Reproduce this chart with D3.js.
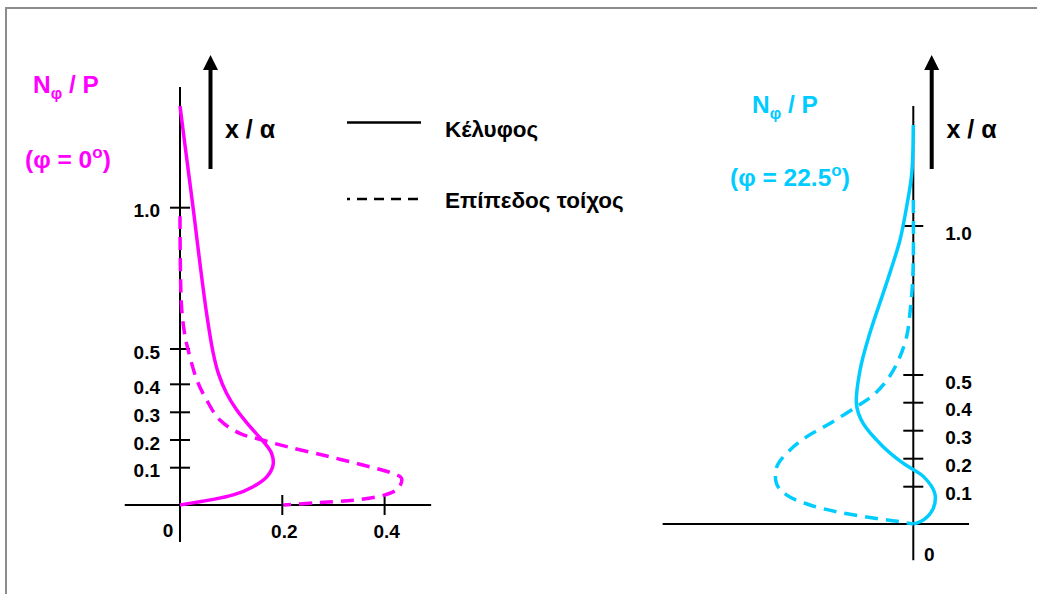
<!DOCTYPE html>
<html>
<head>
<meta charset="utf-8">
<script src="https://cdn.jsdelivr.net/npm/d3@7"></script>
<style>
  html, body { margin: 0; padding: 0; background: #fff; }
  svg { display: block; font-family: "Liberation Sans", Arial, sans-serif; font-weight: bold; }
</style>
</head>
<body>
<svg id="chart" width="1037" height="594"></svg>
<script>
// ---------------- DATA ----------------
const yTickValues = [0.1, 0.2, 0.3, 0.4, 0.5, 1.0];
const yTickLabels = ["0.1", "0.2", "0.3", "0.4", "0.5", "1.0"];
const xTickValuesLeft = [0.2, 0.4];
const xTickLabelsLeft = ["0.2", "0.4"];
const legendLabels = ["Κέλυφος", "Επίπεδος τοίχος"];

// [N/P value, x/a] pairs  — φ = 0°
const shellLeft = [
  [0, 0], [0.104, 0.027], [0.143, 0.049], [0.170, 0.076], [0.182, 0.110],
  [0.179, 0.152], [0.163, 0.194], [0.137, 0.248], [0.111, 0.308], [0.091, 0.368],
  [0.075, 0.431], [0.065, 0.488], [0.052, 0.626], [0.039, 0.803], [0.027, 0.980],
  [0.0186, 1.098], [0.0084, 1.24], [0, 1.36]
];
const wallLeft = [
  [0, 0.97], [0.003, 0.65], [0.010, 0.544], [0.016, 0.497], [0.033, 0.412],
  [0.052, 0.344], [0.078, 0.272], [0.117, 0.224], [0.156, 0.2025], [0.209, 0.176],
  [0.287, 0.142], [0.365, 0.106], [0.411, 0.087], [0.433, 0.072], [0.427, 0.045],
  [0.401, 0.027], [0.339, 0.013], [0.267, 0.006], [0.202, 0]
];
// φ = 22.5°
const shellRight = [
  [0, 1.339], [-0.003, 1.177], [-0.013, 1.065], [-0.026, 0.953], [-0.044, 0.852],
  [-0.059, 0.774], [-0.085, 0.640], [-0.104, 0.517], [-0.111, 0.392], [-0.098, 0.326],
  [-0.059, 0.243], [-0.020, 0.184], [0.020, 0.136], [0.042, 0.082], [0.039, 0.042],
  [0.020, 0.011], [0, 0]
];
const wallRight = [
  [0, 1.087], [0, 0.886], [-0.002, 0.796], [-0.006, 0.718], [-0.013, 0.629],
  [-0.029, 0.550], [-0.049, 0.488], [-0.078, 0.428], [-0.111, 0.386], [-0.163, 0.326],
  [-0.208, 0.279], [-0.241, 0.231], [-0.267, 0.171], [-0.267, 0.109], [-0.248, 0.078],
  [-0.202, 0.051], [-0.143, 0.031], [-0.072, 0.015], [-0.026, 0.006], [0, 0]
];

// ---------------- DRAW ----------------
const svg = d3.select("#chart");
const MAGENTA = "#ff00ff";
const CYAN = "#00ccff";

// frame
svg.append("rect").attr("x", 6).attr("y", 8).attr("width", 1100).attr("height", 700)
  .attr("fill", "none").attr("stroke", "#8c8c8c").attr("stroke-width", 2);

const yDomain = [0, 0.1, 0.2, 0.3, 0.4, 0.5, 1.0];

const panels = [
  {
    color: MAGENTA,
    x: d3.scaleLinear().domain([0, 0.4]).range([180, 384.6]),
    y: d3.scaleLinear().domain(yDomain).range([505, 467.7, 440, 412.3, 384.3, 349, 207.7]),
    hExtent: [-0.108, 0.491], vExtent: [-0.099, 1.427],
    shell: shellLeft, wall: wallLeft,
    labelSide: "left", labelDy: 3,
    xTicks: xTickValuesLeft, xLabels: xTickLabelsLeft,
    zeroLabel: { dx: -12, y: 537 },
    title: { x: 33, y: 93 }, angle: { x: 25, y: 168, text: "(φ = 0", tail: ")" },
    arrowDx: 30.5, xaDx: 45
  },
  {
    color: CYAN,
    x: d3.scaleLinear().domain([-0.4, 0]).range([913.3 - 204.6, 913.3]),
    y: d3.scaleLinear().domain(yDomain).range([524, 486.7, 458.7, 430.7, 402.7, 375, 226]),
    hExtent: [-0.49, 0.109], vExtent: [-0.097, 1.403],
    shell: shellRight, wall: wallRight,
    labelSide: "right", labelDy: 7,
    xTicks: [], xLabels: [],
    zeroLabel: { dx: 16, y: 561 },
    title: { x: 752, y: 113 }, angle: { x: 730, y: 186, text: "(φ = 22.5", tail: ")" },
    arrowDx: 18.4, xaDx: 33.2
  }
];

panels.forEach(p => {
  const g = svg.append("g");
  const x0 = p.x(0), y0 = p.y(0);

  // axes
  g.append("line").attr("x1", p.x(p.hExtent[0])).attr("x2", p.x(p.hExtent[1]))
    .attr("y1", y0).attr("y2", y0).attr("stroke", "#000").attr("stroke-width", 2);
  g.append("line").attr("x1", x0).attr("x2", x0)
    .attr("y1", p.y(p.vExtent[0])).attr("y2", p.y(p.vExtent[1]))
    .attr("stroke", "#000").attr("stroke-width", 2);

  // y ticks
  g.selectAll(".yt").data(yTickValues).join("line")
    .attr("x1", x0 - 10).attr("x2", x0 + 10)
    .attr("y1", d => p.y(d)).attr("y2", d => p.y(d))
    .attr("stroke", "#000").attr("stroke-width", 2);
  g.selectAll(".yl").data(yTickValues).join("text")
    .attr("x", p.labelSide === "left" ? x0 - 20 : x0 + 32)
    .attr("y", d => p.y(d) + p.labelDy)
    .attr("dy", "0.35em")
    .attr("text-anchor", p.labelSide === "left" ? "end" : "start")
    .attr("font-size", 19).attr("fill", "#000")
    .text((d, i) => yTickLabels[i]);

  // x ticks
  g.selectAll(".xt").data(p.xTicks).join("line")
    .attr("x1", d => p.x(d)).attr("x2", d => p.x(d))
    .attr("y1", y0 - 10).attr("y2", y0 + 10)
    .attr("stroke", "#000").attr("stroke-width", 2);
  g.selectAll(".xl").data(p.xTicks).join("text")
    .attr("x", d => p.x(d) + 2).attr("y", y0 + 33)
    .attr("text-anchor", "middle").attr("font-size", 19).attr("fill", "#000")
    .text((d, i) => p.xLabels[i]);

  g.append("text").attr("x", x0 + p.zeroLabel.dx).attr("y", p.zeroLabel.y)
    .attr("text-anchor", "middle").attr("font-size", 19).attr("fill", "#000").text("0");

  // curves
  const line = d3.line().x(d => p.x(d[0])).y(d => p.y(d[1])).curve(d3.curveCatmullRom.alpha(0.5));
  g.append("path").attr("d", line(p.shell)).attr("fill", "none")
    .attr("stroke", p.color).attr("stroke-width", 3.5).attr("stroke-linejoin", "round");
  g.append("path").attr("d", line(p.wall)).attr("fill", "none")
    .attr("stroke", p.color).attr("stroke-width", 3.5).attr("stroke-dasharray", "13,8");

  // arrow
  const ax = x0 + p.arrowDx;
  g.append("line").attr("x1", ax).attr("x2", ax).attr("y1", 169).attr("y2", 68)
    .attr("stroke", "#000").attr("stroke-width", 4);
  g.append("path").attr("d", `M${ax - 7.5},70 L${ax + 7.5},70 L${ax},55 Z`).attr("fill", "#000");
  g.append("text").attr("x", x0 + p.xaDx).attr("y", 138).attr("font-size", 25).attr("fill", "#000")
    .text("x / α");

  // titles
  const t = g.append("text").attr("x", p.title.x).attr("y", p.title.y)
    .attr("font-size", 24.5).attr("fill", p.color);
  t.append("tspan").text("N");
  t.append("tspan").attr("font-size", 16).attr("dy", 6).text("φ");
  t.append("tspan").attr("dy", -6).text(" / P");

  const a = g.append("text").attr("x", p.angle.x).attr("y", p.angle.y)
    .attr("font-size", 24.5).attr("fill", p.color);
  a.append("tspan").text(p.angle.text);
  a.append("tspan").attr("font-size", 17).attr("dy", -10).text("o");
  a.append("tspan").attr("dy", 10).text(p.angle.tail);
});

// legend
const legend = svg.append("g");
legendLabels.forEach((lab, i) => {
  const ly = i === 0 ? 122.5 : 199;
  legend.append("line").attr("x1", 347).attr("x2", 421).attr("y1", ly).attr("y2", ly)
    .attr("stroke", "#000").attr("stroke-width", 2.5)
    .attr("stroke-dasharray", i === 0 ? null : "10,7").attr("stroke-dashoffset", i === 0 ? null : 7);
  legend.append("text").attr("x", 445).attr("y", i === 0 ? 137 : 208)
    .attr("font-size", 22.5).attr("fill", "#000").text(lab);
});
</script>
</body>
</html>
